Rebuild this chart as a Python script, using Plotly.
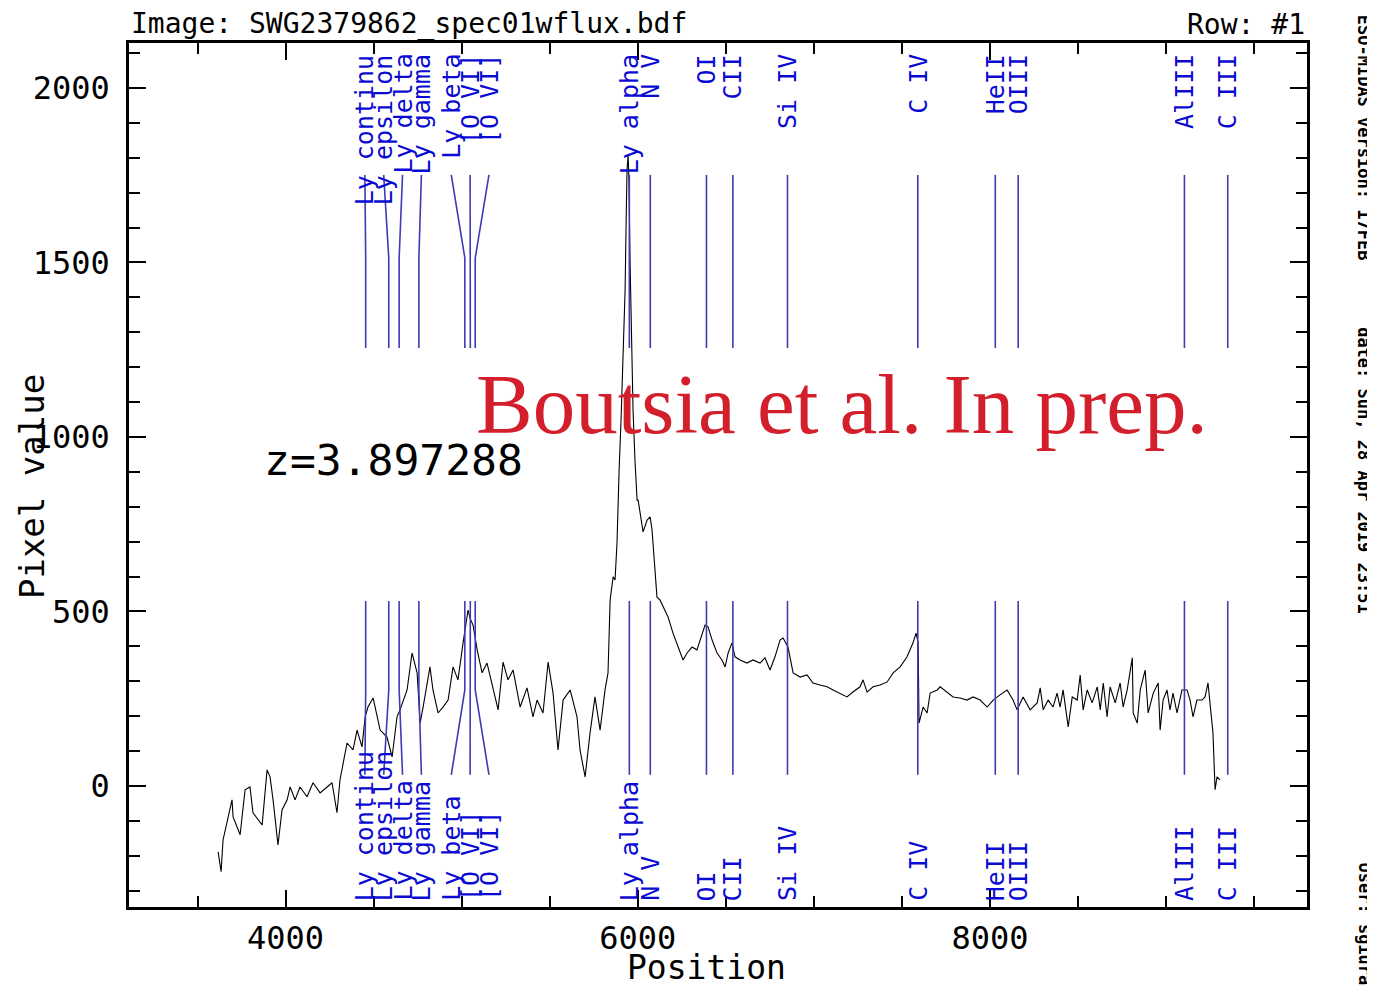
import plotly.graph_objects as go

# ---------------- data ----------------
wave = [3617, 3634, 3645, 3696, 3702, 3742, 3770, 3798, 3815, 3867, 3895, 3912, 3929, 3957, 3980,
        4009, 4026, 4054, 4082, 4122, 4156, 4196, 4236, 4264, 4292, 4309, 4349, 4383, 4406, 4434,
        4452, 4468, 4497, 4520, 4537, 4576, 4605, 4633, 4650, 4690, 4718, 4747, 4764, 4781, 4820,
        4837, 4866, 4894, 4923, 4951, 4979, 5008, 5036, 5048, 5065, 5088, 5116, 5144, 5178, 5207,
        5235, 5263, 5292, 5332, 5371, 5405, 5428, 5462, 5491, 5519, 5547, 5576, 5616, 5655, 5672,
        5701, 5729, 5757, 5786, 5814, 5831, 5843, 5860, 5871, 5882, 5888, 5894, 5905, 5916, 5928,
        5934, 5939, 5945, 5950, 5956, 5962, 5973, 5984, 5996, 6002, 6013, 6030, 6053, 6070, 6081,
        6098, 6109, 6126, 6143, 6172, 6200, 6228, 6257, 6280, 6308, 6336, 6365, 6382, 6399, 6422,
        6450, 6478, 6496, 6513, 6535, 6552, 6581, 6620, 6654, 6694, 6722, 6751, 6779, 6808, 6825,
        6853, 6882, 6922, 6961, 6995, 7035, 7075, 7109, 7149, 7188, 7222, 7262, 7279, 7302, 7336,
        7376, 7416, 7450, 7490, 7529, 7563, 7580, 7592, 7597, 7620, 7643, 7660, 7700, 7717, 7756,
        7790, 7830, 7870, 7904, 7944, 7984, 8018, 8057, 8097, 8131, 8154, 8188, 8228, 8268, 8285,
        8302, 8330, 8358, 8381, 8398, 8415, 8444, 8467, 8495, 8512, 8529, 8552, 8580, 8609, 8626,
        8643, 8665, 8682, 8711, 8739, 8756, 8779, 8808, 8813, 8836, 8853, 8881, 8898, 8927, 8955,
        8966, 8983, 9005, 9022, 9039, 9062, 9090, 9119, 9136, 9153, 9175, 9204, 9221, 9238, 9249,
        9266, 9278, 9289, 9306]
flux = [-189, -246, -155, -40, -89, -140, -11, -3, -77, -112, 46, 26, -40, -169, -69,
        -40, -3, -40, -3, -31, 9, -20, -3, 9, -77, 17, 123, 103, 160, 112,
        198, 226, 252, 195, 160, 140, 83, 198, 218, 275, 381, 324, 180, 226, 341,
        275, 209, 226, 246, 341, 304, 410, 504, 480, 460, 390, 324, 352, 275, 218,
        355, 304, 332, 226, 281, 198, 246, 209, 355, 266, 103, 246, 275, 198, 103,
        26, 152, 255, 160, 275, 324, 533, 599, 590, 696, 819, 905, 1049, 1220, 1421,
        1622, 1765, 1808, 1736, 1507, 1306, 1077, 934, 819, 819, 782, 728, 762, 771, 733,
        627, 541, 533, 513, 484, 438, 398, 361, 381, 398, 390, 438, 461, 456, 418,
        381, 361, 341, 381, 410, 370, 361, 352, 361, 352, 367, 332, 370, 418, 424,
        398, 324, 312, 318, 295, 289, 284, 275, 266, 255, 269, 284, 304, 269, 284,
        289, 298, 324, 341, 370, 410, 438, 410, 180, 226, 209, 266, 275, 284, 269,
        255, 252, 246, 255, 246, 226, 246, 261, 275, 246, 218, 255, 218, 238, 281,
        218, 246, 226, 266, 226, 275, 169, 255, 246, 318, 218, 275, 238, 284, 218,
        295, 198, 284, 238, 295, 226, 275, 367, 209, 180, 275, 332, 209, 266, 295,
        160, 246, 275, 218, 266, 209, 275, 275, 246, 198, 246, 246, 255, 295, 238,
        152, -11, 26, 17]

line_names = ["Ly continu", "Ly epsilon", "Ly delta", "Ly gamma", "Ly beta", "[O VI]", "[O VI]",
              "Ly alpha", "N V", "OI", "CII", "Si IV", "C IV", "HeII", "OIII", "AlIII", "C III"]
line_wave = [4455, 4586, 4645, 4757, 5018, 5049, 5077, 5952, 6071, 6390, 6540, 6850,
             7590, 8030, 8160, 9104, 9350]

redshift_text = "z=3.897288"
watermark = "Boutsia et al. In prep."
title_left = "Image:\u00a0SWG2379862_spec01wflux.bdf"
title_right = "Row:\u00a0#1"
side_texts = ["ESO-MIDAS version: 17FEB", "date: Sun, 28 Apr 2019 23:51", "User: sgiura"]

x_ticks = [4000, 6000, 8000]
y_ticks = [0, 500, 1000, 1500, 2000]

# ---------------- layout helpers ----------------
def spread(xs, gap):
    cl = []
    for x in xs:
        cl.append([x])
        while len(cl) > 1:
            p, q = cl[-2], cl[-1]
            pe = sum(p) / len(p) + gap * (len(p) - 1) / 2
            qs = sum(q) / len(q) - gap * (len(q) - 1) / 2
            if qs - pe < gap:
                cl[-2:] = [p + q]
            else:
                break
    out = []
    for c in cl:
        m = sum(c) / len(c)
        out += [m + gap * (i - (len(c) - 1) / 2) for i in range(len(c))]
    return out

label_x = spread(line_wave, 107)

MONO = "DejaVu Sans Mono"
LINE_BLUE = "#3c3cb4"
TEXT_BLUE = "#0a0ad2"

fig = go.Figure()

fig.add_trace(go.Scatter(x=wave, y=flux, mode="lines",
                         line=dict(color="black", width=1.1), hoverinfo="skip"))

# marker lines: top group and bottom group
TOP_A, TOP_K, TOP_B = 1751, 1513, 1255
BOT_A, BOT_K, BOT_B = 530, 275, 32
lx, ly = [], []
for w, lw in zip(line_wave, label_x):
    lx += [lw, w, w, None, w, w, lw, None]
    ly += [TOP_A, TOP_K, TOP_B, None, BOT_A, BOT_K, BOT_B, None]
fig.add_trace(go.Scatter(x=lx, y=ly, mode="lines",
                         line=dict(color=LINE_BLUE, width=1.6), hoverinfo="skip"))

annotations = []
for name, lw in zip(line_names, label_x):
    annotations.append(dict(x=lw, y=1, xref="x", yref="paper", yanchor="top", xanchor="center",
                            yshift=-9, text=name, textangle=-90, showarrow=False,
                            font=dict(family=MONO, size=25, color=TEXT_BLUE)))
    annotations.append(dict(x=lw, y=0, xref="x", yref="paper", yanchor="bottom", xanchor="center",
                            yshift=4, text=name, textangle=-90, showarrow=False,
                            font=dict(family=MONO, size=25, color=TEXT_BLUE)))

annotations.append(dict(x=3865, y=934, xref="x", yref="y", xanchor="left", yanchor="middle",
                        text=redshift_text, showarrow=False,
                        font=dict(family=MONO, size=43, color="black")))
annotations.append(dict(x=7160, y=1095, xref="x", yref="y", xanchor="center", yanchor="middle",
                        text=watermark, showarrow=False,
                        font=dict(family="Liberation Serif", size=85, color="#d21f2b")))
annotations.append(dict(x=0, y=1, xref="paper", yref="paper", xanchor="left", yanchor="bottom",
                        yshift=0, text=title_left, showarrow=False,
                        font=dict(family=MONO, size=28, color="black")))
annotations.append(dict(x=1, y=1, xref="paper", yref="paper", xanchor="right", yanchor="bottom",
                        yshift=0, text=title_right, showarrow=False,
                        font=dict(family=MONO, size=28, color="black")))
annotations.append(dict(x=0.5, y=-0.0706, xref="paper", yref="paper", xanchor="center",
                        yanchor="middle", xshift=-12, yshift=0, text="Position", showarrow=False,
                        font=dict(family=MONO, size=33, color="black")))
annotations.append(dict(x=-0.0823, y=0.5, xref="paper", yref="paper", xanchor="center",
                        yanchor="middle", yshift=-12, text="Pixel value", textangle=-90,
                        showarrow=False, font=dict(family=MONO, size=34, color="black")))
for txt, yp in zip(side_texts, [1.035, 0.674, 0.0544]):
    annotations.append(dict(x=1.0484, y=yp, xref="paper", yref="paper", xanchor="center",
                            yanchor="top", text="<b>" + txt + "</b>", textangle=90,
                            showarrow=False, font=dict(family=MONO, size=17, color="black")))

axis_common = dict(showline=True, linecolor="black", linewidth=2.5, mirror="allticks",
                   ticks="inside", ticklen=17, tickwidth=2, tickcolor="black",
                   showgrid=False, zeroline=False,
                   tickfont=dict(family=MONO, size=32, color="black"))

fig.update_xaxes(range=[3111, 9800], tickvals=x_ticks, ticktext=[str(v) for v in x_ticks],
                 minor=dict(dtick=500, tick0=0, ticks="inside", ticklen=11, tickwidth=2,
                            tickcolor="black", showgrid=False),
                 ticklabelstandoff=1, **axis_common)
fig.update_yaxes(range=[-347, 2129], tickvals=y_ticks, ticktext=[str(v) for v in y_ticks],
                 minor=dict(dtick=100, tick0=0, ticks="inside", ticklen=11, tickwidth=2,
                            tickcolor="black", showgrid=False),
                 ticklabelstandoff=10, **axis_common)

# page body has an 8px margin: the figure is placed at (8, 8) in the window
fig.update_layout(width=1367, height=977, margin=dict(l=121, r=68, t=35, b=78),
                  paper_bgcolor="white", plot_bgcolor="white", showlegend=False,
                  annotations=annotations)

fig.write_html("out.html")
